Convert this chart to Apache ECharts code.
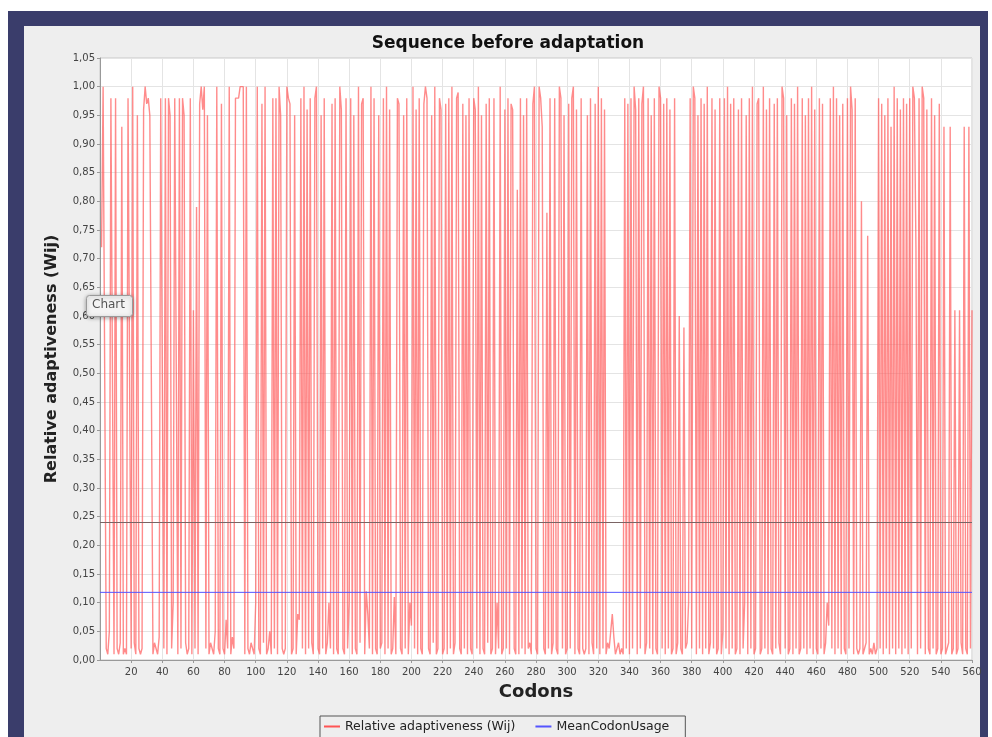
<!DOCTYPE html>
<html>
<head>
<meta charset="utf-8">
<script src="https://cdn.jsdelivr.net/npm/echarts@6/dist/echarts.min.js"></script>
<style>
html,body{margin:0;padding:0;background:#ffffff;width:992px;height:737px;overflow:hidden;}
#navy{position:absolute;left:8px;top:11px;width:980px;height:726px;background:#3a3d6b;}
#panel{position:absolute;left:24px;top:26px;width:956px;height:711px;background:#eeeeee;}
#chart{position:absolute;left:0;top:0;width:992px;height:737px;}
</style>
</head>
<body>
<div id="navy"></div>
<div id="panel"></div>
<div id="chart"></div>
<script>
// Relative adaptiveness (Wij) per codon (codons 1..560)
const wij = [
0.72,1,1,0.02,0.01,0.05,0.98,0.98,0.01,0.98,0.02,0.01,0.03,0.93,0.01,0.02,0.01,0.98,0.98,0.02,
1,0.03,0.01,0.95,0.02,0.01,0.02,0.96,1,0.97,0.98,0.95,0.95,0.01,0.03,0.02,0.01,0.04,0.98,0.98,
0.02,0.98,0.01,0.98,0.95,0.02,0.1,0.98,0.98,0.01,0.98,0.02,0.98,0.95,0.03,0.01,0.02,0.98,0.01,0.61,
0.02,0.79,0.01,0.97,1,0.96,1,0.02,0.95,0.01,0.03,0.02,0.01,0.05,1,0.02,0.01,0.97,0.02,0.01,
0.07,0.02,1,0.01,0.04,0.02,0.98,0.98,0.98,1,1,1,0.01,1,0.02,0.01,0.03,0.02,0.01,0.1,
1,0.02,0.01,0.97,0.03,1,0.01,0.02,0.05,0.01,0.98,0.02,0.98,0.01,1,0.95,0.02,0.01,0.02,1,
0.98,0.97,0.01,0.02,0.95,0.01,0.08,0.07,0.98,0.02,1,0.01,0.96,0.02,0.98,0.03,0.01,0.98,1,0.02,
0.01,0.95,0.02,0.98,0.01,0.03,0.1,0.02,0.97,0.01,0.98,0.02,0.01,1,0.96,0.02,0.01,0.98,0.02,0.1,
0.98,0.01,0.95,0.02,0.01,1,0.03,0.97,0.98,0.01,0.12,0.08,0.02,1,0.01,0.98,0.02,0.01,0.95,0.02,
0.03,0.98,0.01,1,0.02,0.96,0.01,0.02,0.11,0.01,0.98,0.97,0.02,0.01,0.95,0.02,0.98,0.01,0.1,0.06,
1,0.02,0.96,0.01,0.98,0.02,0.01,0.97,1,0.98,0.02,0.01,0.95,0.03,1,0.01,0.02,0.98,0.96,0.01,
0.02,0.97,0.01,0.98,0.02,1,0.01,0.03,0.98,0.99,0.02,0.01,0.97,0.02,0.95,0.01,0.98,0.02,0.01,0.98,
0.96,0.02,1,0.01,0.95,0.02,0.01,0.97,0.03,0.98,0.01,0.02,0.98,0.01,0.1,0.02,1,0.01,0.02,0.96,
0.02,0.98,0.01,0.97,0.96,0.02,0.01,0.82,0.01,0.98,0.02,0.95,0.01,0.98,0.02,0.03,0.01,0.97,1,0.02,
0.01,1,0.98,0.93,0.02,0.01,0.78,0.02,0.98,0.01,0.03,0.98,0.02,0.01,1,0.98,0.02,0.95,0.01,0.02,
0.97,0.02,0.98,1,0.01,0.96,0.02,0.01,0.98,0.02,0.01,0.02,0.95,0.01,0.98,0.03,0.01,0.97,0.02,1,
0.01,0.98,0.02,0.96,0.01,0.03,0.02,0.05,0.08,0.04,0.01,0.02,0.03,0.01,0.02,0.01,0.98,0.02,0.97,0.01,
0.98,0.02,1,0.96,0.01,0.98,0.02,0.97,1,0.01,0.03,0.98,0.02,0.95,0.01,0.98,0.02,0.01,1,0.98,
0.02,0.97,0.01,0.98,0.02,0.96,0.01,0.02,0.98,0.01,0.03,0.6,0.02,0.01,0.58,0.02,0.03,0.1,0.98,0.02,
1,0.98,0.01,0.95,0.02,0.98,0.01,0.97,0.02,1,0.01,0.03,0.98,0.02,0.96,0.01,0.02,0.98,0.01,0.05,
0.98,0.02,1,0.01,0.97,0.02,0.98,0.01,0.02,0.96,0.01,0.98,0.02,0.1,0.95,0.01,0.98,0.02,1,0.01,
0.02,0.97,0.98,0.01,0.02,1,0.02,0.96,0.01,0.98,0.02,0.01,0.97,0.02,0.98,0.03,0.01,1,0.98,0.02,
0.95,0.01,0.02,0.98,0.01,0.97,0.02,1,0.01,0.02,0.98,0.02,0.95,0.01,0.98,0.02,1,0.01,0.96,0.02,
0.01,0.98,0.02,0.97,0.01,0.03,0.1,0.06,0.98,0.02,1,0.01,0.98,0.02,0.95,0.01,0.97,0.02,0.01,0.98,
0.02,1,0.96,0.01,0.98,0.02,0.01,0.02,0.8,0.01,0.02,0.03,0.74,0.01,0.02,0.01,0.03,0.01,0.02,0.98,
0.02,0.97,0.01,0.95,0.02,0.98,0.01,0.93,0.02,1,0.01,0.98,0.02,0.96,0.01,0.98,0.02,0.97,0.01,0.98,
0.02,1,0.98,0.72,0.01,0.98,0.02,1,0.98,0.01,0.96,0.02,0.01,0.98,0.02,0.95,0.01,0.02,0.97,0.01,
0.02,0.93,0.01,0.02,0.03,0.93,0.01,0.02,0.61,0.01,0.02,0.61,0.03,0.01,0.93,0.02,0.01,0.93,0.02,0.61
];
const codons = wij.map((v, i) => i + 1);
const meanCodonUsage = 0.118;
const markerValue = 0.238;
const titleText = 'Sequence before adaptation';
const xName = 'Codons';
const yName = 'Relative adaptiveness (Wij)';
const seriesNames = ['Relative adaptiveness (Wij)', 'MeanCodonUsage'];

const chart = echarts.init(document.getElementById('chart'), null, {renderer: 'canvas'});
chart.setOption({
  animation: false,
  backgroundColor: 'transparent',
  title: {
    text: titleText, left: 503, top: 30, textAlign: 'center',
    textStyle: {fontFamily: 'DejaVu Sans', fontWeight: 'bold', fontSize: 17, color: '#111'}
  },
  grid: {left: 100, top: 58, right: 20, bottom: 77, show: true, backgroundColor: '#ffffff', borderColor: '#c8c8c8', borderWidth: 1},
  legend: {
    data: seriesNames, left: 320, top: 716, itemGap: 20, itemWidth: 16, itemHeight: 2,
    borderColor: '#555', borderWidth: 1, padding: [4, 16, 6, 4], backgroundColor: '#eeeeee',
    icon: 'rect', textStyle: {fontFamily: 'DejaVu Sans', fontSize: 12.5, color: '#222'}
  },
  xAxis: {
    type: 'value', min: 0, max: 560, interval: 20,
    name: xName, nameLocation: 'middle', nameGap: 23,
    nameTextStyle: {fontFamily: 'DejaVu Sans', fontWeight: 'bold', fontSize: 18, color: '#222'},
    axisLine: {show: true, lineStyle: {color: '#999'}},
    axisTick: {show: true, length: 3, lineStyle: {color: '#999'}},
    axisLabel: {showMinLabel: false, fontFamily: 'DejaVu Sans', fontSize: 10, color: '#444', margin: 7},
    splitLine: {show: true, lineStyle: {color: '#e4e4e4', width: 1}}
  },
  yAxis: {
    type: 'value', min: 0, max: 1.05, interval: 0.05,
    name: yName, nameLocation: 'middle', nameGap: 40, nameRotate: 90,
    nameTextStyle: {fontFamily: 'DejaVu Sans', fontWeight: 'bold', fontSize: 16, color: '#222'},
    axisLine: {show: true, lineStyle: {color: '#999'}},
    axisTick: {show: true, length: 3, lineStyle: {color: '#999'}},
    axisLabel: {fontFamily: 'DejaVu Sans', fontSize: 10, color: '#444', margin: 5,
      formatter: v => v.toFixed(2).replace('.', ',')},
    splitLine: {show: true, lineStyle: {color: '#e4e4e4', width: 1}}
  },
  series: [
    {
      name: seriesNames[0], type: 'line', showSymbol: false, symbol: 'none',
      data: codons.map((c, i) => [c, wij[i]]),
      lineStyle: {color: '#ff5a5a', width: 1.4, opacity: 0.7},
      itemStyle: {color: '#ff5555'}
    },
    {
      name: seriesNames[1], type: 'line', showSymbol: false, symbol: 'none',
      data: [[0, meanCodonUsage], [560, meanCodonUsage]],
      lineStyle: {color: '#5555ff', width: 1},
      itemStyle: {color: '#5555ff'},
      markLine: {
        silent: true, symbol: ['none', 'none'], label: {show: false},
        lineStyle: {color: '#7a6464', width: 1, type: 'solid'},
        data: [{yAxis: markerValue}]
      }
    }
  ],
  graphic: [
    {type: 'rect', left: 86, top: 295, shape: {width: 46, height: 21, r: 3},
     style: {fill: '#f4f4f4', stroke: '#9a9a9a', lineWidth: 1, shadowBlur: 4, shadowColor: 'rgba(0,0,0,0.35)', shadowOffsetY: 1}, z: 100},
    {type: 'text', left: 92, top: 299, style: {text: 'Chart', fontFamily: 'DejaVu Sans', fontSize: 12, fill: '#555'}, z: 101}
  ]
});
</script>
</body>
</html>
